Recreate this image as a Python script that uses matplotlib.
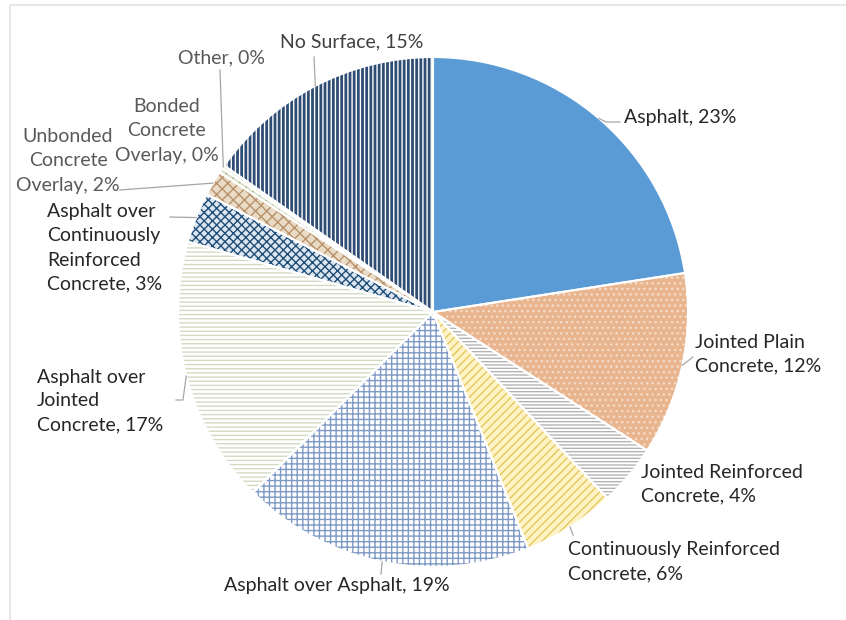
import numpy as np
import matplotlib
matplotlib.use('Agg')
import matplotlib.pyplot as plt
from matplotlib.patches import Rectangle

plt.rcParams['font.family'] = ['Lato', 'DejaVu Sans']
plt.rcParams['hatch.linewidth'] = 1.0

# surface types, clockwise from 12 o'clock
names = ['Asphalt', 'Jointed Plain\nConcrete', 'Jointed Reinforced\nConcrete',
         'Continuously Reinforced\nConcrete', 'Asphalt over Asphalt',
         'Asphalt over\nJointed\nConcrete', 'Asphalt over\nContinuously\nReinforced\nConcrete',
         'Unbonded\nConcrete\nOverlay', 'Bonded\nConcrete\nOverlay', 'Other', 'No Surface']
shares = [22.6, 11.6, 3.9, 5.9, 18.6, 17.0, 3.2, 1.6, 0.3, 0.2, 15.3]

# fill styles (face, hatch, hatch colour)
faces = ['#5B9BD5', '#E8B58F', 'white', '#FFF3C6', 'white', 'white',
         '#DCE6F0', '#EADBC6', '#DCE3CC', '#E9EEDD', '#2F4C74']
hatches = [None, '...', '-----', '////', '+++', '----', 'xxxx', 'xxx', '///', None, '||||']
hatch_cols = ['#5B9BD5', '#F6DCC8', '#B3B3B3', '#E3C85E', '#7F9AC4', '#D3DBC3',
              '#1F4E79', '#B8926A', '#A9B98A', '#E9EEDD', 'white']

# label placement in pixels (x, y, horizontal alignment, colour)
lab_pos = [(624, 118, 'left', '#262626'), (695, 354, 'left', '#262626'),
           (641, 484, 'left', '#262626'), (568, 562, 'left', '#262626'),
           (224, 585, 'left', '#262626'), (37, 401, 'left', '#262626'),
           (47, 248, 'left', '#262626'), (68, 161, 'center', '#595959'),
           (167, 131, 'center', '#595959'), (222, 58, 'center', '#595959'),
           (352, 42, 'center', '#404040')]
leaders = [[(606, 122), (620, 122)], [(693, 357)], [], [(573, 535)], [(381, 574)],
           [(183, 400), (176, 400)], [(170, 217)], [(120, 190)], [], [(220, 70)], [(314, 57)]]

cx, cy, r = 433, 312, 255

fig = plt.figure(figsize=(8.46, 6.2), dpi=100)
ax = fig.add_axes([0, 0, 1, 1])

wedges, _ = ax.pie(shares, center=(cx, cy), radius=r, startangle=-90, counterclock=True,
                   colors=faces, wedgeprops=dict(linewidth=0))
for w, h, hc in zip(wedges, hatches, hatch_cols):
    w.set_edgecolor(hc)
    if h:
        w.set_hatch(h)

# white separators between slices
ax.pie(shares, center=(cx, cy), radius=r, startangle=-90, counterclock=True,
       colors=['none'] * len(shares),
       wedgeprops=dict(linewidth=1.5, edgecolor='white', fill=False))

total = sum(shares)
for w, name, v, (lx, ly, ha, col), extra in zip(wedges, names, shares, lab_pos, leaders):
    pct = round(v / total * 100)
    ax.text(lx, ly, f'{name}, {pct}%', ha=ha, va='center', fontsize=14,
            color=col, linespacing=1.5)
    if extra:
        mid = np.deg2rad((w.theta1 + w.theta2) / 2)
        pts = [(cx + r * np.cos(mid), cy + r * np.sin(mid))] + extra
        xs, ys = zip(*pts)
        ax.plot(xs, ys, color='#A6A6A6', lw=0.9)

ax.add_patch(Rectangle((10, 5), 900, 700, fill=False, edgecolor='#E3E3E3', lw=1.2, clip_on=False))

ax.set_xlim(0, 846)
ax.set_ylim(620, 0)
ax.set_aspect('equal')
ax.axis('off')

fig.savefig('out.png', dpi=100, facecolor='white')
